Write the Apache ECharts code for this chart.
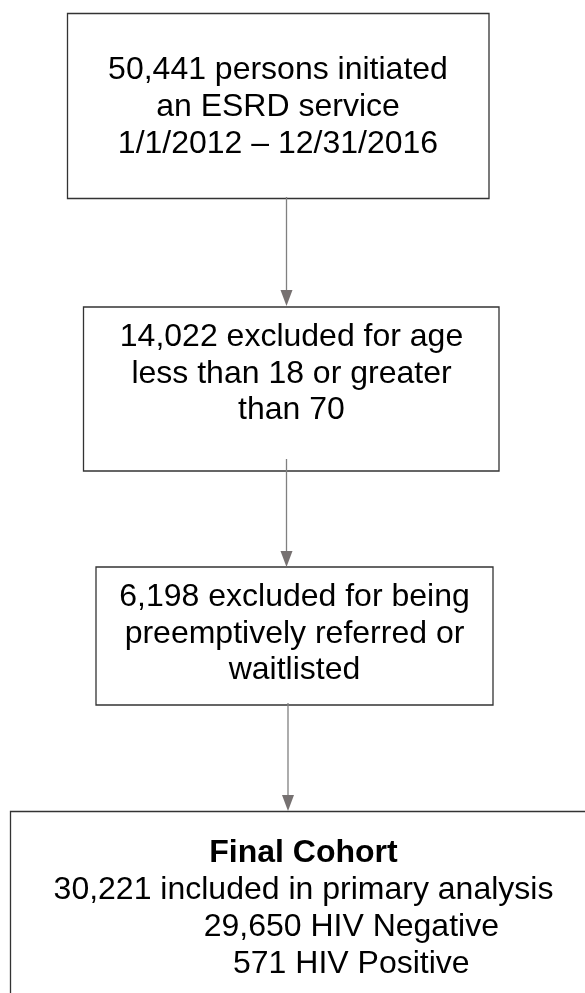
<!DOCTYPE html>
<html>
<head>
<meta charset="utf-8">
<script src="https://cdn.jsdelivr.net/npm/echarts@6/dist/echarts.min.js"></script>
<style>
html,body{margin:0;padding:0;background:#fff;}
#chart{width:585px;height:993px;}
</style>
</head>
<body>
<div id="chart"></div>
<script>
// ---- content (text of each flow step) ----
const step1Lines = ['50,441 persons initiated', 'an ESRD service', '1/1/2012 \u2013 12/31/2016'];
const step2Lines = ['14,022 excluded for age', 'less than 18 or greater', 'than 70'];
const step3Lines = ['6,198 excluded for being', 'preemptively referred or', 'waitlisted'];
const finalTitle = ['Final Cohort'];
const finalMain = ['30,221 included in primary analysis'];
const finalSub = ['29,650 HIV Negative', '571 HIV Positive'];

// ---- layout (positions / sizes kept separately) ----
const FONT = '"Liberation Sans", Arial, Helvetica, sans-serif';
const LH = 36.7;
const boxes = [
  {x: 67.5, y: 13.5, w: 421.5, h: 185, lines: step1Lines, cx: 278, y0: 70.5},
  {x: 83.5, y: 307, w: 415.5, h: 164, lines: step2Lines, cx: 291.5, y0: 337},
  {x: 96, y: 567, w: 397, h: 138, lines: step3Lines, cx: 294.5, y0: 597}
];
const finalBox = {x: 10.5, y: 811.5, w: 640, h: 260};
const arrows = [
  {x: 286.5, y1: 197, y2: 306},
  {x: 286.5, y1: 459, y2: 567},
  {x: 288, y1: 703, y2: 811}
];

const elements = [];
function addBox(b) {
  elements.push({
    type: 'rect',
    shape: {x: b.x, y: b.y, width: b.w, height: b.h},
    style: {fill: '#fff', stroke: '#333', lineWidth: 1.3}
  });
}
function addText(str, cx, cy, bold) {
  elements.push({
    type: 'text',
    x: cx, y: cy,
    style: {
      text: str, fill: '#000',
      font: (bold ? 'bold ' : '') + '32px ' + FONT,
      textAlign: 'center', textVerticalAlign: 'middle'
    }
  });
}

boxes.forEach(b => {
  addBox(b);
  b.lines.forEach((t, i) => addText(t, b.cx, b.y0 + i * LH, false));
});
addBox(finalBox);
finalTitle.forEach((t, i) => addText(t, 303.5, 853 + i * LH, true));
finalMain.forEach((t, i) => addText(t, 303.5, 890 + i * LH, false));
finalSub.forEach((t, i) => addText(t, 351.3, 927 + i * LH, false));

arrows.forEach(a => {
  const headH = 16, headW = 6;
  elements.push({
    type: 'line',
    shape: {x1: a.x, y1: a.y1, x2: a.x, y2: a.y2 - headH},
    style: {stroke: '#808080', lineWidth: 1.3}
  });
  elements.push({
    type: 'polygon',
    shape: {points: [[a.x - headW, a.y2 - headH], [a.x + headW, a.y2 - headH], [a.x, a.y2]]},
    style: {fill: '#767171'}
  });
});

const chart = echarts.init(document.getElementById('chart'), null, {renderer: 'canvas'});
chart.setOption({
  backgroundColor: '#fff',
  animation: false,
  graphic: {elements: elements}
});
</script>
</body>
</html>
